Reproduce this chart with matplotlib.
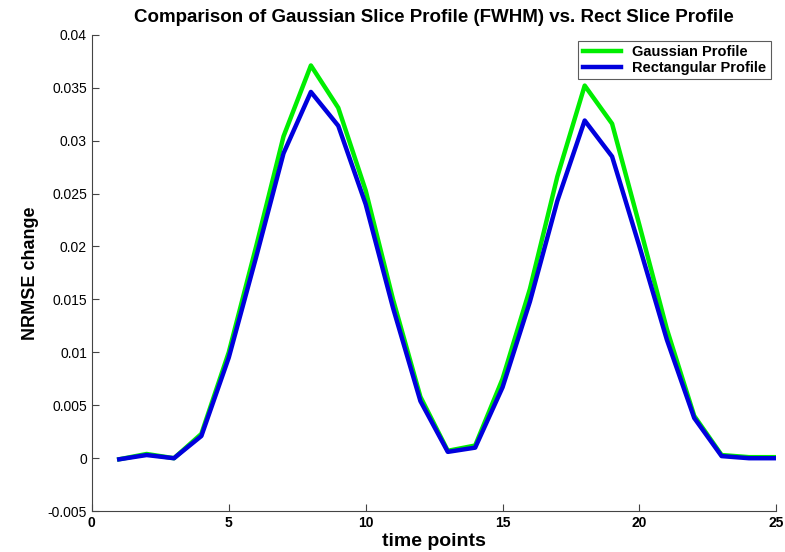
import matplotlib.pyplot as plt

time_points = list(range(1, 26))
gaussian = [-0.0001, 0.0004, 0.0, 0.0023, 0.0100, 0.0200, 0.0304, 0.0371, 0.0331,
            0.0253, 0.0150, 0.0058, 0.0007, 0.0012, 0.0075, 0.0160, 0.0266, 0.0352,
            0.0316, 0.0220, 0.0122, 0.0040, 0.0003, 0.0001, 0.0001]
rectangular = [-0.0001, 0.0003, 0.0, 0.0021, 0.0095, 0.0190, 0.0288, 0.0346, 0.0314,
               0.0240, 0.0142, 0.0054, 0.0006, 0.0010, 0.0067, 0.0148, 0.0243, 0.0319,
               0.0285, 0.0200, 0.0112, 0.0038, 0.0002, 0.0000, 0.0000]

plt.rcParams['font.family'] = ['Liberation Sans', 'DejaVu Sans']

fig = plt.figure(figsize=(7.85, 5.52), dpi=100)
ax = fig.add_axes([0.117, 0.074, 0.872, 0.863])

ax.plot(time_points, gaussian, color='#00ee00', lw=3.2, label='Gaussian Profile')
ax.plot(time_points, rectangular, color='#0000dd', lw=3.2, label='Rectangular Profile')

ax.set_xlim(0, 25)
ax.set_ylim(-0.005, 0.04)
ax.set_xticks([0, 5, 10, 15, 20, 25])
ax.set_yticks([-0.005, 0, 0.005, 0.01, 0.015, 0.02, 0.025, 0.03, 0.035, 0.04])
ax.set_yticklabels(['-0.005', '0', '0.005', '0.01', '0.015', '0.02', '0.025',
                    '0.03', '0.035', '0.04'])
ax.tick_params(direction='in', length=5, color='#444444', labelsize=10)
for lbl in ax.get_xticklabels():
    lbl.set_fontweight('bold')
for s in ['top', 'right']:
    ax.spines[s].set_visible(False)
for s in ['left', 'bottom']:
    ax.spines[s].set_color('#444444')

ax.set_title('Comparison of Gaussian Slice Profile (FWHM) vs. Rect Slice Profile',
             fontsize=13.5, fontweight='bold', pad=9)
ax.set_xlabel('time points', fontsize=14, fontweight='bold', labelpad=2)
ax.set_ylabel('NRMSE change', fontsize=13, fontweight='bold', labelpad=6)

leg = ax.legend(loc='upper right', bbox_to_anchor=(0.992, 0.987), borderaxespad=0,
                fancybox=False, edgecolor='#333333',
                prop={'weight': 'bold', 'size': 10.5},
                borderpad=0.3, labelspacing=0.1, handlelength=2.6)
leg.get_frame().set_linewidth(0.8)

fig.savefig('out.png', dpi=100)
